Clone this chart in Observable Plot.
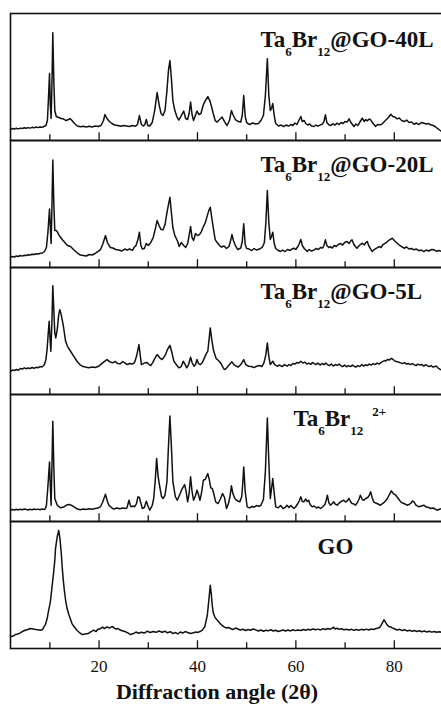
<!DOCTYPE html>
<html>
<head>
<meta charset="utf-8">
<script src="https://cdn.jsdelivr.net/npm/d3@7"></script>
<script src="https://cdn.jsdelivr.net/npm/@observablehq/plot@0.6"></script>
<style>
html, body { margin: 0; padding: 0; background: #fff; overflow: hidden; }
#chart svg { display: block; overflow: hidden; }
</style>
</head>
<body>
<div id="chart"></div>
<script>
// ---------- data ----------
const samples = ["GO-40L", "GO-20L", "GO-5L", "Ta6Br12", "GO"];
// label markup: _{..} subscript, ^{..} superscript
const sampleLabels = ["Ta_{6}Br_{12}@GO-40L", "Ta_{6}Br_{12}@GO-20L", "Ta_{6}Br_{12}@GO-5L", "Ta_{6}Br_{12}^{2+}", "GO"];
const xMajorTicks = [20, 40, 60, 80];
const xMinorTicks = [10, 30, 50, 70];
const xTickLabels = ["20", "40", "60", "80"];
const xTitle = "Diffraction angle (2θ)";

// [2θ, intensity (a.u.)]
const pattern40L = [[2,11],[2.4,12],[2.8,11.5],[3.2,12.3],[3.6,11.6],[4,12.4],[4.4,12],[4.8,12.8],[5.2,12.2],[5.6,12.9],[6,12.4],[6.4,13.2],[6.8,12.7],[7.2,13.5],[7.6,12.9],[8,13.6],[8.4,13.2],[8.8,14],[9.2,15],[9.5,20],[9.7,40],[9.93,67],[10.1,35],[10.25,22],[10.4,50],[10.6,108],[10.8,60],[11,30],[11.3,24],[11.8,23],[12.3,22],[12.8,21.5],[13.3,20],[13.8,21],[14.1,22],[14.5,20],[15,17],[15.6,14.5],[16.2,13.8],[16.8,14.3],[17.4,13.5],[18,14.2],[18.6,13.6],[19.2,14.5],[19.8,14],[20.4,15],[20.9,20],[21.2,26],[21.6,22],[22.1,19],[22.6,17],[23.2,15.5],[23.8,15],[24.4,14.2],[25,15],[25.6,14.5],[26.2,14],[26.8,15],[27.4,14.3],[27.8,16],[28.2,25],[28.6,16],[29,14.5],[29.3,16],[29.6,21],[29.9,15],[30.3,14.5],[30.8,18],[31.3,30],[31.8,48],[32.2,36],[32.6,27],[33,25],[33.4,30],[33.8,50],[34.1,70],[34.4,80],[34.7,62],[35,40],[35.4,30],[35.8,24],[36.2,20.5],[36.6,24],[37.2,29.5],[37.6,22],[38,21],[38.3,27],[38.6,38.5],[38.9,26],[39.2,20],[39.5,24],[39.9,29.5],[40.3,26],[40.7,27],[41.2,36],[41.6,40],[42.1,44],[42.5,40],[42.8,35],[43.2,27],[43.6,20],[44,18.5],[44.5,21],[45,23.5],[45.5,19],[46,15],[46.5,20],[46.9,30],[47.2,26],[47.7,21],[48.3,19],[48.8,18.5],[49.1,25],[49.4,45],[49.7,24],[50,18],[50.6,16],[51.2,17.5],[51.8,16.5],[52.4,17],[52.9,20],[53.4,25],[53.8,45],[54.2,82],[54.5,45],[54.8,30],[55.1,33],[55.3,37],[55.6,25],[55.9,17],[56.5,14.5],[57,15.5],[57.5,14],[58,15.5],[58.5,14.5],[59,16],[59.4,15],[59.8,17.5],[60.2,16],[60.6,20],[61,24],[61.3,19],[61.7,20],[62,17],[62.4,15.5],[62.8,16.5],[63.2,14.5],[63.7,14],[64.1,15.5],[64.5,14.3],[65,15.7],[65.4,16.5],[65.7,19],[66,25.7],[66.3,18],[66.7,15.7],[67.1,15],[67.5,16.8],[67.9,15.5],[68.4,17.3],[68.8,16],[69.2,18],[69.6,17],[70,19],[70.4,18.5],[70.8,21.7],[71.2,18],[71.5,16],[71.8,14],[72.2,16.5],[72.6,15],[73,18.5],[73.5,22.3],[73.9,19],[74.2,21],[74.5,19.7],[74.9,21.5],[75.2,20.7],[75.6,17.5],[75.9,16],[76.2,14],[76.6,16],[77.2,15.7],[77.6,17],[78,19],[78.4,21],[78.8,23],[79.3,26.3],[79.7,24],[80.1,23.5],[80.6,21.7],[81,22.5],[81.5,20],[82,19],[82.5,20.5],[83,18],[83.5,18.5],[84,16.3],[84.5,17.5],[85,16],[85.5,18],[86,17.3],[86.5,16.5],[87,17],[87.4,15.7],[87.9,15],[88.3,14],[88.7,12.3],[89.2,10.5],[89.6,9],[90,8.5]];

const pattern20L = [[2,10.3],[2.4,11],[2.8,10.5],[3.2,11.5],[3.6,11],[4,12],[4.4,11.4],[4.8,12.3],[5.2,12],[5.6,12.8],[6,12.5],[6.4,13.3],[6.8,13],[7.2,13.8],[7.6,13.5],[8.1,14.3],[8.5,14.5],[8.9,16],[9.3,20],[9.6,35],[9.93,58.7],[10.1,40],[10.25,24],[10.4,55],[10.6,107.7],[10.8,65],[11,37],[11.3,37],[11.5,36],[11.8,33],[12.2,30],[12.6,27.5],[13.2,24],[13.6,22],[14.2,21],[14.8,18],[15.5,15],[16.2,12.5],[16.8,12],[17.4,11.5],[18,13],[18.6,12.5],[19.2,14],[19.6,15.5],[20.3,18],[20.8,24],[21.3,32],[21.7,25],[22.3,20],[22.8,19.5],[23.4,18],[24,17.5],[24.6,16.5],[25.2,18.5],[25.7,17.5],[26.2,18.5],[26.8,17.2],[27.1,20],[27.5,22],[27.9,28],[28.2,35.3],[28.5,22],[28.8,18.5],[29.2,19],[29.6,24],[30,22],[30.5,25],[31,30],[31.4,38],[31.8,47],[32.2,42],[32.6,38],[33,37.7],[33.4,43],[33.8,55],[34.1,63],[34.4,70.3],[34.7,55],[35,40],[35.4,32],[35.9,27],[36.3,21],[36.7,25],[37.2,22],[37.6,20],[38,24],[38.3,32],[38.6,41],[38.9,30],[39.2,27],[39.6,34],[40,32],[40.4,33],[40.8,36],[41.2,41],[41.6,45],[42,52],[42.3,57],[42.6,60.3],[42.9,50],[43.3,37],[43.6,28],[44,25],[44.5,22],[44.9,20.5],[45.4,21.5],[45.9,19],[46.4,21],[46.7,26],[47,33],[47.3,27],[47.7,22],[48.2,18],[48.8,19.5],[49.1,26],[49.4,43.7],[49.7,23],[50,19],[50.5,18.5],[51,17],[51.5,19],[52,17.5],[52.6,18.5],[53.2,20.5],[53.6,25],[53.9,45],[54.2,77],[54.5,45],[54.8,28],[55.1,32],[55.3,35.3],[55.6,24],[55.9,19],[56.4,17],[56.9,16],[57.3,17.5],[57.8,16],[58.3,18],[58.8,17],[59.2,18.5],[59.6,19.3],[60,18],[60.4,21],[60.7,24],[61,28],[61.3,22],[61.7,19],[62,17.5],[62.3,16],[62.7,18],[63.2,16.5],[63.7,17.7],[64.1,19],[64.6,18],[65,20],[65.4,19.5],[65.7,22],[66,27.7],[66.3,22],[66.7,20],[67,21],[67.4,19.5],[67.8,22],[68.2,21],[68.6,23],[69.1,24],[69.5,22.5],[69.9,25],[70.4,26],[70.8,24],[71.1,26.5],[71.4,27.7],[71.8,23],[72.1,21],[72.4,19.3],[72.8,21.5],[73.1,23],[73.5,24.3],[73.9,22.5],[74.2,25],[74.5,26],[74.8,22],[75.2,18.5],[75.5,16],[75.9,18],[76.4,19.5],[76.9,21],[77.3,20],[77.7,23],[78.2,24.5],[78.6,26],[79.1,28],[79.6,29.3],[80,27],[80.3,25.5],[80.6,24.3],[81,22.5],[81.5,21],[82,19.3],[82.5,20.5],[83,18.5],[83.5,19],[84,17.7],[84.5,18.5],[85,16.8],[85.5,17.5],[86,16],[86.5,17.5],[87,16.5],[87.6,18],[88.1,17.7],[88.6,16.2],[89.1,17],[89.6,16],[90,16.5]];

const pattern5L = [[2,23.3],[2.4,24.5],[2.8,24],[3.2,25],[3.6,24.3],[4,26],[4.4,25.5],[4.8,26.7],[5.2,25.8],[5.6,26.5],[6,26],[6.4,27],[6.8,26.3],[7.2,27.2],[7.6,26.8],[8,28],[8.4,27.6],[8.6,28.3],[8.9,30],[9.2,35],[9.45,46],[9.65,60],[9.86,73.3],[10.05,55],[10.2,43.3],[10.4,70],[10.6,109],[10.8,85],[11,62],[11.2,56.7],[11.5,65],[11.8,80],[12.03,85],[12.3,80],[12.7,70],[13.2,53.3],[13.6,48],[14.2,43.3],[14.9,38],[15.5,33.3],[16.1,30],[16.6,28.3],[17.2,27.5],[17.9,26.7],[18.6,27.5],[19.2,27],[19.8,28],[20.3,30],[20.8,32],[21.6,35],[22.1,33],[22.7,31.7],[23.3,33],[23.8,31],[24.3,30.7],[24.8,33],[25.3,31.5],[25.7,30],[26.2,31],[26.8,30.5],[27.2,32],[27.6,38],[27.9,45],[28.1,50],[28.4,38],[28.6,30],[29,31],[29.4,32],[29.8,31.7],[30.2,30],[30.5,29],[30.9,32],[31.3,36],[31.8,40],[32.3,37],[32.8,35],[33.1,36.7],[33.5,40],[33.9,45],[34.4,49.3],[34.8,42],[35.2,33.3],[35.7,30],[36.2,26.7],[36.7,28],[37.1,33.3],[37.5,30],[37.8,26.7],[38.2,30],[38.6,37.3],[38.9,32],[39.3,28.3],[39.6,30],[39.9,35],[40.2,31],[40.6,30],[41,32],[41.4,36.7],[41.8,41],[42.1,43.3],[42.35,55],[42.6,66.7],[42.9,55],[43.3,43.3],[43.8,36],[44.4,33.3],[44.9,30],[45.3,26],[45.6,25],[46,27],[46.5,30],[47,32.7],[47.4,30],[47.9,28.3],[48.3,27.5],[48.8,30],[49.4,35],[49.8,30],[50.4,28.3],[50.9,28],[51.5,27],[52,28.3],[52.6,29],[53.1,28],[53.5,31.7],[53.9,40],[54.2,51.7],[54.5,38],[54.8,30],[55.3,33.3],[55.7,30],[56.2,28.3],[56.7,29.5],[57.2,28],[57.7,30],[58.2,28.3],[58.6,30],[59,29],[59.4,31],[59.8,30.5],[60.2,32],[60.6,31.5],[61,33.3],[61.4,31.5],[61.8,32.5],[62.2,30.5],[62.6,31.5],[63,30.2],[63.4,32],[63.7,31],[64.1,30],[64.5,31.5],[64.9,29.5],[65.3,31],[65.7,30],[66.1,31.5],[66.4,30],[66.8,29],[67.2,30.5],[67.6,28.5],[68,30],[68.4,29.2],[68.8,30.5],[69.1,29],[69.5,28],[69.9,29.5],[70.3,27.8],[70.7,29],[71.1,28],[71.5,29.5],[71.8,28.3],[72.2,27.5],[72.6,29],[73,28],[73.4,30],[73.8,28.5],[74.2,29.8],[74.5,29],[74.9,30.5],[75.3,29.5],[75.7,31],[76.1,30],[76.5,31.5],[76.9,30.5],[77.2,31.7],[77.6,33],[78,34],[78.3,33.5],[78.6,35],[79,34.5],[79.3,36],[79.6,35.7],[80,34],[80.4,33],[80.8,32.5],[81.3,31.7],[81.7,31],[82.1,32],[82.5,30.5],[82.9,31],[83.3,30],[83.7,31],[84,30],[84.4,29],[84.8,30.5],[85.2,29.5],[85.6,30],[86,28.5],[86.4,30],[86.7,29],[87.1,28],[87.5,29],[87.8,27.5],[88.1,27.7],[88.5,28.5],[88.9,26.5],[89.4,25],[89.8,24],[90,24]];

const patternTa = [[2,11.3],[2.4,12],[2.8,11.5],[3.2,12.2],[3.6,11.6],[4,12.3],[4.4,11.8],[4.8,12.5],[5.2,12],[5.6,11.5],[6,12.3],[6.4,11.8],[6.8,12.5],[7.2,11.9],[7.6,12.4],[8,11.7],[8.4,12.5],[8.8,12],[9.1,13],[9.3,16],[9.6,35],[9.93,59.7],[10.1,35],[10.25,16.3],[10.4,50],[10.6,100.3],[10.8,55],[11,23],[11.5,16.3],[12.2,13.7],[12.8,14.5],[13.4,16.5],[13.9,17],[14.5,16],[15,14.5],[15.6,12.5],[16.2,11.8],[16.8,12.5],[17.4,12],[18,12.8],[18.6,12.3],[19.2,13],[19.8,13.5],[20.3,15],[20.7,19],[21.3,27.3],[21.7,20],[22,16.3],[22.5,14],[23,12.5],[23.6,13.5],[24.2,12.7],[24.8,13.5],[25.4,13],[25.7,14],[25.9,18],[26.1,21.3],[26.3,17],[26.5,14.7],[26.9,15.5],[27.2,14.7],[27.6,18],[27.9,24.7],[28.2,24],[28.4,20],[28.8,13],[29.2,14],[29.6,20.3],[29.9,16],[30.3,11.3],[30.8,16],[31.1,23],[31.4,40],[31.7,63],[32,45],[32.4,33],[32.7,25],[33,23],[33.4,26.3],[33.8,40],[34.1,75],[34.4,105.7],[34.7,75],[35,40],[35.5,25],[35.9,21.3],[36.4,27],[36.9,33],[37.4,37],[37.7,30],[38,19.7],[38.3,28],[38.6,44.7],[38.9,30],[39.2,21.3],[39.6,26],[39.9,31.3],[40.2,27],[40.5,21.3],[40.8,28],[41.2,41.3],[41.6,42.3],[42.1,48],[42.4,42],[42.7,33.7],[43,33],[43.2,30],[43.7,19.7],[44.2,18],[44.7,23],[45.1,28],[45.5,24],[45.9,13],[46.3,18],[46.6,25],[46.9,35.7],[47.2,28],[47.6,23],[48,21],[48.6,19.7],[49,25],[49.2,38],[49.4,54.7],[49.7,30],[50.1,14.7],[50.6,13.7],[51.1,15],[51.5,14.3],[52,16],[52.5,15.3],[52.9,16.3],[53.4,22],[53.8,50],[54.2,103.7],[54.5,60],[54.8,23],[55.1,35],[55.3,43],[55.6,28],[55.9,14.7],[56.4,13.7],[56.9,16],[57.4,13],[57.9,14.5],[58.2,16.3],[58.6,14],[59,16],[59.6,13],[60,15],[60.4,18],[60.7,21],[61,24.7],[61.3,20],[61.6,19.7],[62,22.5],[62.3,20],[62.6,21.3],[62.9,17],[63.3,14.7],[63.7,15.5],[64.2,13.5],[64.6,14.5],[65,13],[65.5,15],[65.9,17],[66.2,22],[66.4,26.3],[66.7,19],[67,16.3],[67.4,18],[67.7,19.7],[68,17.5],[68.4,16.3],[68.8,18.5],[69.2,20],[69.7,21.3],[70.1,19.5],[70.5,21],[70.8,23],[71.1,20],[71.4,18],[71.8,17.5],[72.1,16.3],[72.5,19],[72.8,22],[73.1,26.3],[73.5,22],[73.8,21.3],[74.2,23],[74.6,24],[74.9,26],[75.2,29.7],[75.5,24],[75.8,19.7],[76.2,18.5],[76.7,17.5],[77.2,16.3],[77.6,18],[78,19.5],[78.3,21],[78.6,23],[79,27],[79.4,30.7],[79.8,28],[80.3,26.3],[80.8,23],[81.3,19.7],[81.7,18.5],[82.2,17.5],[82.6,16.3],[83,17],[83.4,18.5],[83.7,20.5],[84,19.7],[84.4,16.5],[85,14.7],[85.5,15.5],[86,16.3],[86.5,14.5],[87,14],[87.4,13],[87.9,13.5],[88.3,12.5],[88.7,11.3],[89.2,12.3],[89.6,13],[90,12]];

const patternGO = [[2,11.7],[2.5,12.5],[3,14],[3.5,14.5],[4,15.7],[4.4,17],[5,18.3],[5.5,19],[6,20],[6.6,19.5],[7.1,19],[7.6,18.7],[8.1,18.3],[8.5,19],[8.8,21.7],[9.1,24],[9.45,30],[9.7,37],[10.1,46.7],[10.4,60],[10.7,73.3],[11,88],[11.15,100],[11.5,112],[11.8,118.3],[12.05,110],[12.3,96.7],[12.5,82],[12.7,70],[12.9,60],[13.2,48.3],[13.5,40],[13.9,33.3],[14.5,25],[14.9,22],[15.5,18.3],[16,16],[16.6,14],[17.2,14.5],[17.8,15],[18.3,16.7],[18.9,18.5],[19.4,17],[19.7,19],[20.3,20],[20.7,21.5],[21.1,20],[21.6,21.7],[22.1,20.5],[22.6,22],[23,21],[23.4,19.5],[23.8,20],[24.4,18.3],[24.9,17.5],[25.4,16.7],[25.9,15.5],[26.4,14],[27,15],[27.5,16.5],[28,15.3],[28.6,16.3],[29.2,15.5],[29.8,17.3],[30.4,16],[31,17],[31.6,16.2],[32.2,17.5],[32.8,16.3],[33.4,17.3],[33.9,15.7],[34.5,16.8],[35,15],[35.6,16],[36,14.5],[36.5,16.5],[37,15.5],[37.5,17],[38,16],[38.6,15],[39.2,15.7],[39.6,16.5],[40,16],[40.5,17],[41,18.5],[41.5,22],[42,33.3],[42.3,48],[42.6,63.3],[42.8,55],[43,43.3],[43.2,36],[43.5,31.7],[43.9,29],[44.3,26.7],[44.8,24],[45.4,21.7],[45.9,20.5],[46.3,21],[46.7,20],[47.2,19],[47.7,20.5],[48.2,19.5],[48.7,18.5],[49.2,19.3],[49.8,18],[50.3,19],[50.8,18.3],[51.3,19.5],[51.8,18.7],[52.4,17.5],[52.9,18.5],[53.4,17.3],[53.9,18.2],[54.4,17.7],[54.9,18.8],[55.4,17.5],[55.9,18.3],[56.4,17],[56.9,17.8],[57.4,18.5],[57.9,17.5],[58.4,18.5],[58.9,17.6],[59.4,18.8],[59.9,17.9],[60.4,18.6],[61,18],[61.5,19],[62,18.2],[62.5,19.3],[63,18.5],[63.5,19.6],[64,18.7],[64.5,19.4],[65,18.6],[65.5,19.8],[66,19],[66.5,20],[67,19.3],[67.4,20.5],[67.7,21.3],[68,19.5],[68.4,20.3],[68.8,19.2],[69.3,19.8],[69.8,18.7],[70.3,19.3],[70.8,18.5],[71.3,19.2],[71.8,18.2],[72.3,19],[72.8,18.3],[73.3,19.2],[73.8,18.5],[74.3,19.4],[74.8,18.6],[75.3,19.5],[75.8,19],[76.3,20],[76.8,20.5],[77.2,22],[77.5,25],[77.9,28.7],[78.2,26.5],[78.5,24],[78.9,22],[79.3,21.5],[79.6,20.7],[80.1,19.5],[80.6,18.5],[81.1,19.2],[81.6,18],[82.1,18.8],[82.6,17.6],[83.1,18.3],[83.6,17.2],[84.1,18],[84.6,17],[85.1,17.8],[85.6,16.8],[86.1,17.5],[86.6,16.5],[87.1,17.3],[87.6,16.4],[88.1,17.1],[88.6,16.2],[89.1,16.8],[89.6,16.3],[90,16.6]];

const patterns = [pattern40L, pattern20L, pattern5L, patternTa, patternGO];

// ---------- layout / style ----------
const W = 441, H = 707;
const M = {top: 12, bottom: 59, left: 10, right: -2};
const band = (H - M.top - M.bottom) / samples.length;
const serif = "Liberation Serif";
const labelLayout = [
  {dx: 250, dy: 33},
  {dx: 250, dy: 31},
  {dx: 250, dy: 31},
  {dx: 283, dy: 31.5},
  {dx: 307, dy: 32}
];

const rows = samples.flatMap((s, i) => patterns[i].map(([a, v]) => ({sample: s, angle: a, intensity: v})));
const plainLabel = (s) => s.replace(/[_^]\{([^}]*)\}/g, "$1");

const labelMarks = samples.map((s, i) =>
  Plot.text([s], {
    fy: d => d,
    text: () => plainLabel(sampleLabels[i]),
    frameAnchor: "top-left",
    dx: labelLayout[i].dx,
    dy: labelLayout[i].dy,
    lineAnchor: "bottom",
    textAnchor: "start",
    fontFamily: serif,
    fontSize: 23,
    fontWeight: "bold",
    fill: "#111"
  })
);

const chart = Plot.plot({
  width: W,
  height: H,
  marginTop: M.top,
  marginBottom: M.bottom,
  marginLeft: M.left,
  marginRight: M.right,
  style: {background: "#fff", color: "#111"},
  x: {domain: [2, 90]},
  y: {domain: [0, band], axis: null},
  fy: {domain: samples, padding: 0, axis: null, label: null},
  marks: [
    Plot.tickX(xMinorTicks, {x: d => d, insetTop: band - 6, stroke: "#111", strokeWidth: 1.3}),
    Plot.tickX(xMajorTicks, {x: d => d, insetTop: band - 8, stroke: "#111", strokeWidth: 1.3}),
    Plot.line(rows, {x: "angle", y: "intensity", fy: "sample", z: "sample", stroke: "#111", strokeWidth: 1.5}),
    Plot.frame({stroke: "#111", strokeWidth: 1.6}),
    Plot.axisX(xMajorTicks, {
      tickSize: 0,
      tickPadding: 11,
      fontSize: 17,
      fontFamily: serif,
      tickFormat: d => xTickLabels[xMajorTicks.indexOf(d)],
      label: null
    }),
    Plot.text([xTitle], {
      text: d => d,
      facet: "super",
      frameAnchor: "bottom",
      dx: -10,
      dy: 50,
      fontFamily: serif,
      fontSize: 22,
      fontWeight: "bold",
      fill: "#111"
    }),
    ...labelMarks
  ]
});

document.getElementById("chart").appendChild(chart);

// rebuild panel labels with real sub/superscripts
const svgNS = "http://www.w3.org/2000/svg";
d3.select(chart).selectAll("text").each(function () {
  const t = this.textContent;
  const idx = sampleLabels.findIndex(l => plainLabel(l) === t);
  if (idx < 0 || !/[_^]/.test(sampleLabels[idx])) return;
  const markup = sampleLabels[idx];
  const parts = [];
  const re = /([_^])\{([^}]*)\}|([^_^]+)/g;
  let m;
  while ((m = re.exec(markup))) {
    if (m[3]) parts.push({text: m[3], kind: "n"});
    else parts.push({text: m[2], kind: m[1] === "_" ? "sub" : "sup"});
  }
  this.textContent = "";
  let shift = 0;
  parts.forEach(p => {
    const ts = document.createElementNS(svgNS, "tspan");
    const target = p.kind === "sub" ? 9 : p.kind === "sup" ? -10 : 0;
    const dy = target - shift;
    if (dy !== 0) ts.setAttribute("dy", dy);
    shift = target;
    if (p.kind !== "n") ts.setAttribute("font-size", 13);
    if (p.kind === "sup") ts.setAttribute("dx", 9);
    ts.textContent = p.text;
    this.appendChild(ts);
  });
});
</script>
</body>
</html>
